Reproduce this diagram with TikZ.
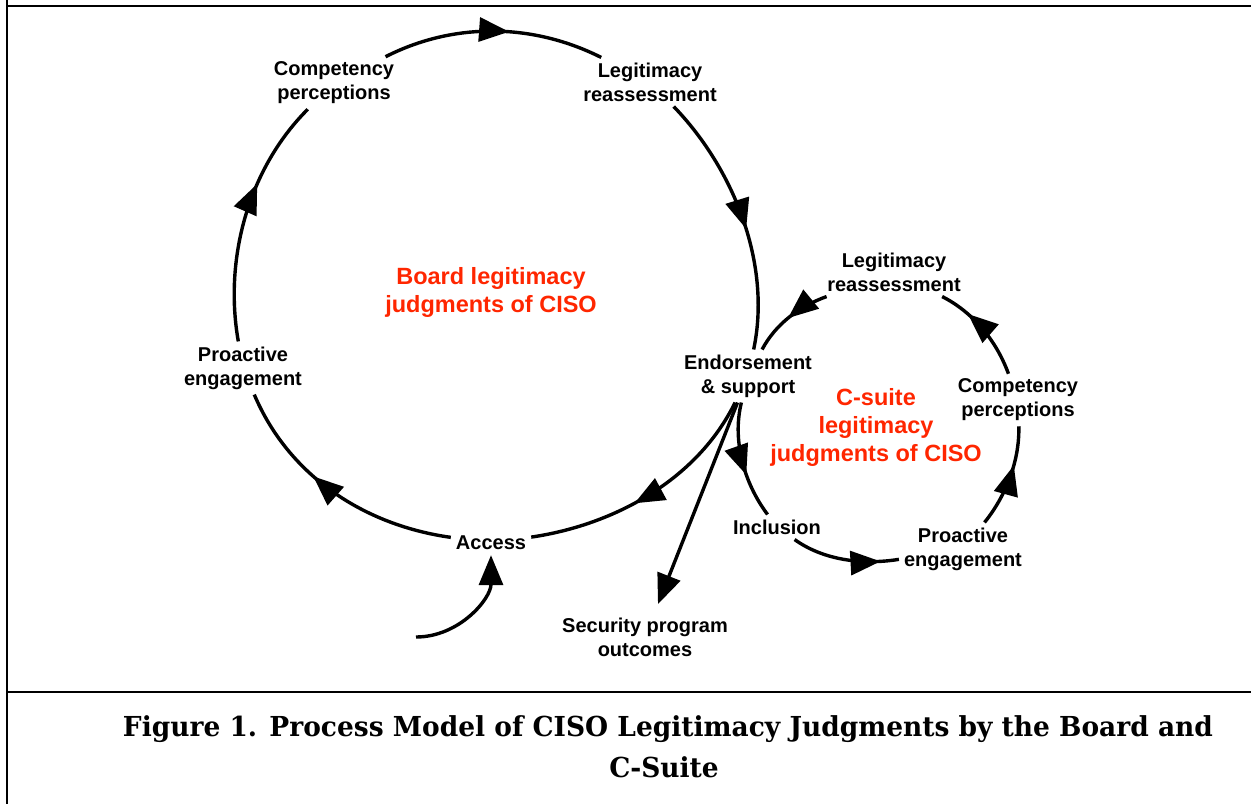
\documentclass[tikz,border=0pt]{standalone}
\usepackage{fontspec}
\usepackage{graphicx}
\setmainfont{Liberation Sans}
\newfontfamily\capserif{DejaVu Serif}
\usetikzlibrary{arrows.meta,decorations.markings}
\definecolor{labelred}{RGB}{255,38,0}

\tikzset{
  lbl/.style={font=\bfseries\fontsize{20}{24}\selectfont, align=center, inner sep=5pt},
  loopname/.style={font=\bfseries\fontsize{23.5}{28}\selectfont, align=center, text=labelred},
  flow/.style={line width=3.4pt},
  bigtip/.style={-{Triangle[length=30pt,width=24pt]}},
  tipat/.style={postaction={decorate},
    decoration={markings, mark=at position #1 with {\arrow{Triangle[length=30pt,width=24pt]}}}},
  % curved connector: out angle, out distance, in angle, in distance
  seg/.style n args={4}{out=#1, out distance=#2pt, in=#3, in distance=#4pt},
  frameline/.style={line width=2.5pt},
  caption/.style={font=\capserif\bfseries\fontsize{27.5}{33}\selectfont, anchor=base},
}

\newsavebox\captionline
\newcommand\capline{Figure 1. Process Model of CISO Legitimacy Judgments by the Board and}

\begin{document}
% horizontal squeeze that sets the first caption line to 1090pt
\sbox\captionline{\capserif\bfseries\fontsize{27.5}{33}\selectfont\capline}
\pgfmathsetmacro\capsqueeze{1090/\wd\captionline}
\begin{tikzpicture}[x=1pt,y=1pt]
\useasboundingbox (0,0) rectangle (1251,-804);

% page frame and rule above the caption
\draw[frameline] (7,0) -- (7,-804);
\draw[frameline] (7,-6) -- (1251,-6);
\draw[frameline] (7,-692) -- (180,-692);
\draw[line width=1.2pt] (180,-692) -- (1088,-692);
\draw[frameline] (1088,-692) -- (1251,-692);

% board loop
\node[lbl] (comp) at (334,-83) {Competency\\perceptions};
\node[lbl] (legit) at (650,-82) {Legitimacy\\reassessment};
\node[lbl] (endorse) at (748,-376) {Endorsement\\\& support};
\node[lbl] (access) at (491,-543) {Access};
\node[lbl] (proact) at (243,-368) {Proactive\\engagement};
\node[loopname] (board) at (491,-292.5) {Board legitimacy\\judgments of CISO};

% C-suite loop
\node[lbl] (legit2) at (894,-272) {Legitimacy\\reassessment};
\node[lbl] (comp2) at (1018,-400) {Competency\\perceptions};
\node[lbl] (proact2) at (963,-549) {Proactive\\engagement};
\node[lbl] (incl) at (777,-527) {Inclusion};
\node[loopname] (csuite) at (876,-427) {C-suite\\legitimacy\\judgments of CISO};

% outcome and input
\node[lbl] (secur) at (645,-637) {Security program\\outcomes};
\coordinate (feed) at (416,-637);

% board loop connectors (clockwise)
\draw[flow, tipat=0.57] (comp) to[seg={27}{77}{153.5}{77}] (legit);
\draw[flow, tipat=0.54] (legit) to[seg={-46}{87}{78}{87}] (endorse);
\draw[flow, tipat=0.57] (endorse) to[seg={244}{85}{8.5}{85}] (access);
\draw[flow, tipat=0.6] (access) to[seg={172}{88}{-67}{88}] (proact);
\draw[flow, tipat=0.64] (proact) to[seg={100}{85}{225}{83}] (comp);

% C-suite loop connectors (counter-clockwise)
\draw[flow, tipat=0.62] (endorse) to[seg={256}{39}{127}{39}] (incl);
\draw[flow, tipat=0.83] (incl) to[seg={-35.8}{36}{189.5}{36}] (proact2);
\draw[flow, tipat=0.62] (proact2) to[seg={51}{34}{-88.5}{34}] (comp2);
\draw[flow, tipat=0.70] (comp2) to[seg={110}{35}{-27}{35}] (legit2);
\draw[flow, tipat=0.52] (legit2) to[seg={200}{29}{62}{29}] (endorse);

% outcome and input connectors
\draw[flow, bigtip, shorten >=9pt] (endorse) -- (secur);
\draw[flow, bigtip] (feed) to[out=0,in=-90] (access);

% caption
\node[caption] (cap1) at (668,-736) {\scalebox{\capsqueeze}[1]{\capline}};
\node[caption] (cap2) at (664,-777) {\scalebox{\capsqueeze}[1]{C-Suite}};
\end{tikzpicture}
\end{document}
